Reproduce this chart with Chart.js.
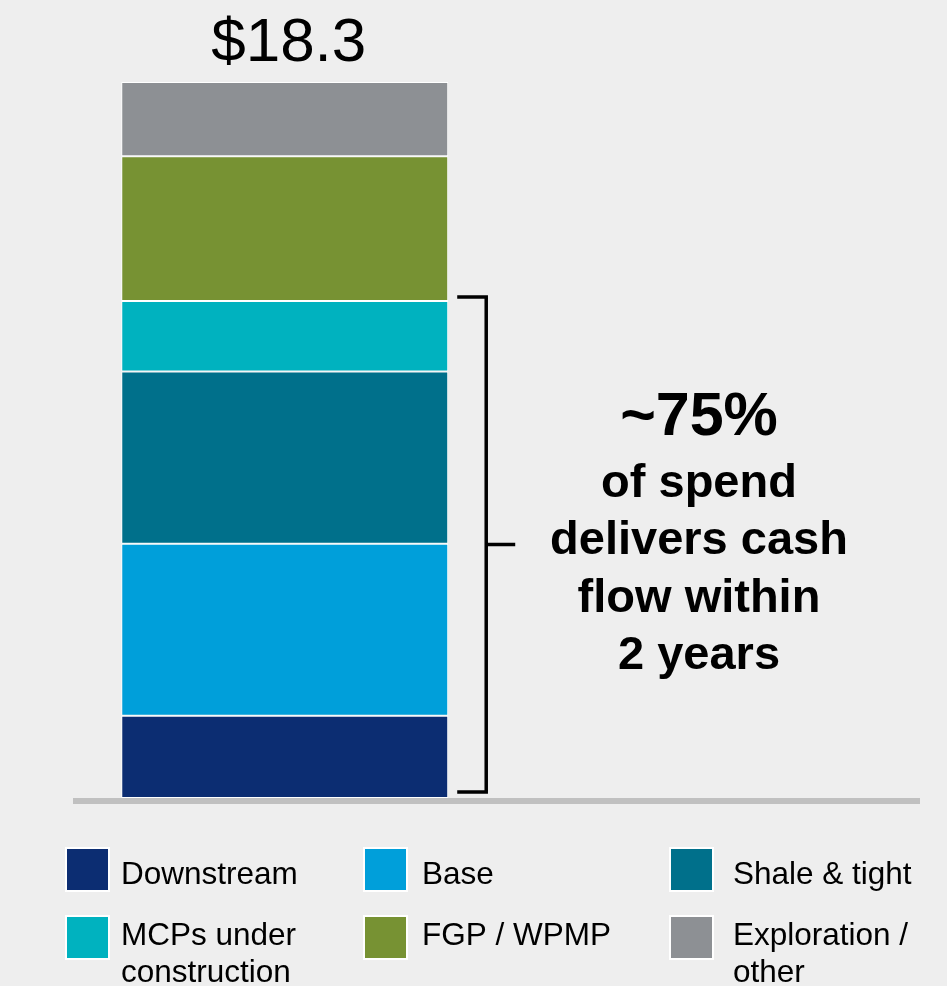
<!DOCTYPE html>
<html>
<head>
<meta charset="utf-8">
<title>Capex breakdown</title>
<script src="https://cdn.jsdelivr.net/npm/chart.js@4.4.1/dist/chart.umd.min.js"></script>
<style>
  html, body { margin: 0; padding: 0; background: #eeeeee; }
  #wrap { width: 947px; height: 986px; position: relative; }
</style>
</head>
<body>
<div id="wrap"><canvas id="capex-chart"></canvas></div>
<script>
// Spend by segment, $ billions (bottom to top of the stack)
const categories = ['Capex', ''];
const segmentNames = ['Downstream', 'Base', 'Shale & tight', 'MCPs under construction', 'FGP / WPMP', 'Exploration / other'];
const segmentValues = [2.1, 4.4, 4.4, 1.8, 3.7, 1.9];
const segmentColors = ['#0c2d72', '#009fda', '#00708b', '#00b2bf', '#779233', '#8d9094'];
// legend text split over lines
const legendLines = [['Downstream'], ['Base'], ['Shale & tight'], ['MCPs under', 'construction'], ['FGP / WPMP'], ['Exploration /', 'other']];
// segments covered by the bracket (Downstream .. MCPs)
const bracketCount = 4;
const noteLines = ['~75%', 'of spend', 'delivers cash', 'flow within', '2 years'];

const FONT = '"Liberation Sans", Arial, sans-serif';

const datasets = segmentNames.map((name, i) => ({
    label: name,
    data: [segmentValues[i], null],
    backgroundColor: segmentColors[i],
    borderColor: '#ffffff',
    borderWidth: 1,
    borderSkipped: false,
    categoryPercentage: 1,
    barPercentage: 0.772
}));

// total label, baseline, bracket with note, and legend
const extras = {
    id: 'extras',
    afterDatasetsDraw(chart) {
        const { ctx, chartArea: area, scales: { x, y } } = chart;
        const total = segmentValues.reduce((a, b) => a + b, 0);
        const bar = chart.getDatasetMeta(0).data[0];
        const barX = x.getPixelForValue(0);
        const barRight = barX + bar.width / 2;
        const y0 = y.getPixelForValue(0);

        ctx.save();

        // baseline
        ctx.fillStyle = '#c0c0c0';
        ctx.fillRect(area.left, y0, area.right - area.left, 6);

        // total on top of the bar
        ctx.fillStyle = '#000';
        ctx.font = '62px ' + FONT;
        ctx.textAlign = 'center';
        ctx.textBaseline = 'alphabetic';
        ctx.fillText('$' + total.toFixed(1), barX + 4, y.getPixelForValue(total) - 21);

        // bracket
        const covered = segmentValues.slice(0, bracketCount).reduce((a, b) => a + b, 0);
        const top = y.getPixelForValue(covered) - 4;
        const bottom = y0 - 6;
        const mid = (top + bottom) / 2;
        const bx0 = barRight + 9;
        const bx1 = bx0 + 29;
        ctx.strokeStyle = '#000';
        ctx.lineWidth = 3.5;
        ctx.beginPath();
        ctx.moveTo(bx0, top);
        ctx.lineTo(bx1, top);
        ctx.lineTo(bx1, bottom);
        ctx.lineTo(bx0, bottom);
        ctx.moveTo(bx1, mid);
        ctx.lineTo(bx1 + 29, mid);
        ctx.stroke();

        // note next to the bracket
        const noteX = 699;
        ctx.font = 'bold 61px ' + FONT;
        ctx.fillText(noteLines[0], noteX, mid - 110);
        ctx.font = 'bold 47px ' + FONT;
        noteLines.slice(1).forEach((line, i) => {
            ctx.fillText(line, noteX, mid - 48 + i * 57.5);
        });

        // legend: 3 columns x 2 rows
        const colX = [65, 363, 669];
        const textOffset = [56, 59, 64];
        const rowY = [847, 915];
        const rowBase = [37, 30];
        const box = 45;
        ctx.textAlign = 'left';
        ctx.font = '31.5px ' + FONT;
        segmentNames.forEach((name, i) => {
            const col = i % 3;
            const row = Math.floor(i / 3);
            const cx = colX[col];
            const cy = rowY[row];
            ctx.fillStyle = '#ffffff';
            ctx.fillRect(cx, cy, box, box);
            ctx.fillStyle = segmentColors[i];
            ctx.fillRect(cx + 2, cy + 2, box - 4, box - 4);
            ctx.fillStyle = '#000';
            legendLines[i].forEach((line, j) => {
                ctx.fillText(line, cx + textOffset[col], cy + rowBase[row] + j * 37);
            });
        });

        ctx.restore();
    }
};

new Chart(document.getElementById('capex-chart'), {
    type: 'bar',
    data: { labels: categories, datasets: datasets },
    options: {
        responsive: true,
        maintainAspectRatio: false,
        animation: false,
        layout: { padding: { top: 82, bottom: 188, left: 73, right: 27 } },
        plugins: {
            legend: { display: false },
            tooltip: { enabled: false }
        },
        scales: {
            x: { stacked: true, display: false },
            y: { stacked: true, display: false, min: 0, max: 18.3 }
        }
    },
    plugins: [extras]
});
</script>
</body>
</html>
